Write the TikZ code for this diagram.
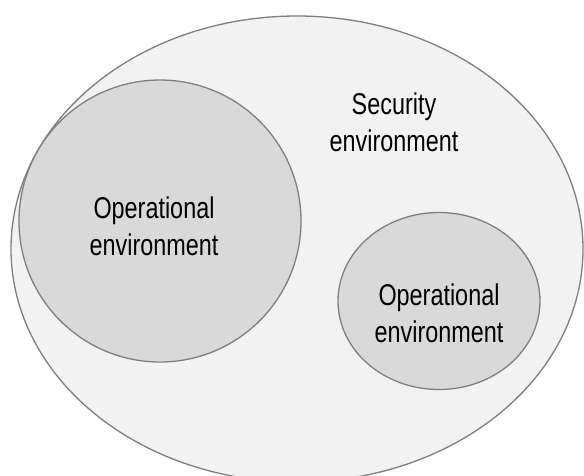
\documentclass[tikz,border=0pt]{standalone}
\usepackage{fontspec}
\setmainfont{Liberation Sans}[FakeStretch=0.78]
\definecolor{outerfill}{HTML}{F2F2F2}
\definecolor{innerfill}{HTML}{D9D9D9}
\definecolor{rim}{HTML}{7F7F7F}
\begin{document}
\begin{tikzpicture}[x=1pt, y=-1pt,
        zone/.style={draw=rim, line width=1.3pt},
        envtext/.style={align=center, font=\fontsize{30}{37}\selectfont}
    ]
    \useasboundingbox (0,0) rectangle (584,475);
    \clip (0,0) rectangle (584,475);
    \fill[white] (0,0) rectangle (584,475);

    \path[zone, fill=outerfill] (297,249) ellipse (286pt and 233pt);
    \path[zone, fill=innerfill] (160,221) circle (141pt);
    \path[zone, fill=innerfill] (439,301) ellipse (101pt and 88.5pt);

    \node[envtext] (sec) at (394,122.5) {Security\\environment};
    \node[envtext] (opl) at (154,226.5) {Operational\\environment};
    \node[envtext] (opr) at (439,313.5) {Operational\\environment};
\end{tikzpicture}
\end{document}
